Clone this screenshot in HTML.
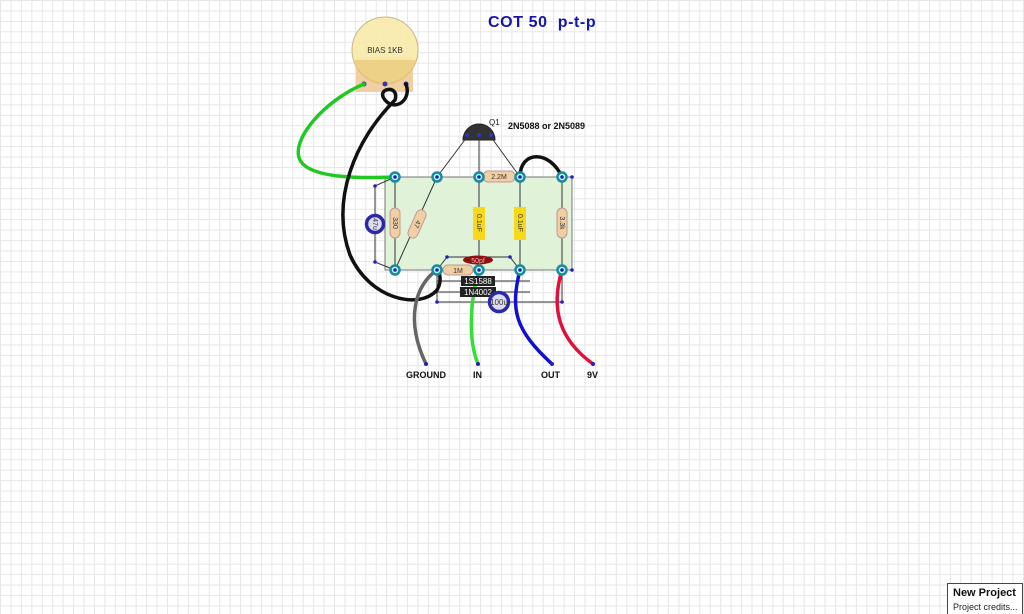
<!DOCTYPE html>
<html><head><style>
html,body{margin:0;padding:0;width:1024px;height:614px;overflow:hidden;background:#fff}
body{background-image:linear-gradient(#e6e6e6 1px,transparent 1px),linear-gradient(90deg,#e6e6e6 1px,transparent 1px);background-size:10.45px 10.45px;background-position:0 0}
svg{position:absolute;left:0;top:0}
text{font-family:"Liberation Sans",sans-serif}
</style></head><body>
<svg width="1024" height="614" viewBox="0 0 1024 614">
<text x="488" y="27" font-size="16" font-weight="bold" fill="#1616a6" letter-spacing="0.6" style="white-space:pre">COT 50  p-t-p</text>
<!-- pot -->
<rect x="356" y="57" width="57" height="35" fill="#f2cfa2"/>
<circle cx="385" cy="50" r="33" fill="#f7eaa8" fill-opacity="0.9" stroke="#c8b68a"/>
<path d="M353,60 L417,60 A33,33 0 0 1 353,60 Z" fill="#e8c878" opacity="0.7"/>
<text x="385" y="53" font-size="8" text-anchor="middle" fill="#333">BIAS 1KB</text>
<circle cx="364" cy="84" r="2.5" fill="#33a"/><circle cx="385" cy="84" r="2.5" fill="#33a"/><circle cx="406" cy="84" r="2.5" fill="#33a"/>
<!-- board -->
<rect x="385" y="177" width="187" height="93" fill="#e0f2d8" stroke="#777" stroke-width="1"/>
<!-- transistor -->
<path d="M463,140 A16,16 0 0 1 495,140 Z" fill="#333" stroke="#222"/>
<circle cx="467" cy="135" r="2" fill="#33c"/><circle cx="479" cy="135" r="2" fill="#33c"/><circle cx="491" cy="135" r="2" fill="#33c"/>
<text x="489" y="125" font-size="8" fill="#222">Q1</text>
<text x="508" y="129" font-size="9" font-weight="bold" fill="#111">2N5088 or 2N5089</text>
<g stroke="#333" stroke-width="1" fill="none">
<line x1="467" y1="137" x2="437" y2="177"/><line x1="479" y1="137" x2="479" y2="270"/><line x1="491" y1="137" x2="520" y2="177"/>
<line x1="395" y1="177" x2="395" y2="270"/><line x1="437" y1="177" x2="395" y2="270"/>
<line x1="520" y1="177" x2="520" y2="270"/><line x1="562" y1="177" x2="562" y2="270"/>
<line x1="375" y1="186" x2="375" y2="262"/><line x1="375" y1="186" x2="395" y2="177"/><line x1="375" y1="262" x2="395" y2="270"/>
<polyline points="447,257 510,257 520,270"/><line x1="447" y1="257" x2="437" y2="270"/>
<line x1="437" y1="281" x2="530" y2="281"/><line x1="437" y1="292" x2="530" y2="292"/><line x1="437" y1="302" x2="562" y2="302"/>
<line x1="437" y1="270" x2="437" y2="302"/><line x1="562" y1="270" x2="562" y2="302"/>
</g>
<!-- components -->
<rect x="390" y="208" width="10" height="30" rx="5" fill="#f2cfa2" stroke="#b99"/>
<text transform="translate(393,223) rotate(90)" font-size="7" text-anchor="middle" fill="#333">330</text>
<g transform="translate(417,224) rotate(24)"><rect x="-5" y="-15" width="10" height="30" rx="5" fill="#f2cfa2" stroke="#b99"/><text transform="rotate(90)" x="0" y="2" font-size="7" text-anchor="middle" fill="#333">47</text></g>
<rect x="473" y="207" width="12" height="33" fill="#f8d81a"/>
<text transform="translate(477,223) rotate(90)" font-size="7" text-anchor="middle" fill="#333">0.1uF</text>
<rect x="514" y="207" width="12" height="33" fill="#f8d81a"/>
<text transform="translate(518,223) rotate(90)" font-size="7" text-anchor="middle" fill="#333">0.1uF</text>
<rect x="557" y="208" width="10" height="30" rx="5" fill="#f2cfa2" stroke="#b99"/>
<text transform="translate(560,223) rotate(90)" font-size="7" text-anchor="middle" fill="#333">3.3k</text>
<circle cx="375" cy="224" r="8.5" fill="#dde" stroke="#2a2aa8" stroke-width="3.5"/>
<text transform="translate(373,224) rotate(90)" font-size="7" text-anchor="middle" fill="#333">47u</text>
<rect x="483" y="171" width="32" height="11" rx="5" fill="#f2cfa2" stroke="#b99"/>
<text x="499" y="179" font-size="7" text-anchor="middle" fill="#333">2.2M</text>
<ellipse cx="478" cy="260" rx="15" ry="4.5" fill="#8e1010"/>
<text x="478" y="263" font-size="7" text-anchor="middle" fill="#eaa">50pf</text>
<rect x="443" y="265" width="30" height="10" rx="5" fill="#f2cfa2" stroke="#b99"/>
<text x="458" y="273" font-size="7" text-anchor="middle" fill="#333">1M</text>
<!-- wires -->
<g fill="none" stroke-linecap="round">
<path d="M364,84 C325,100 290,140 300,160 C310,180 370,178 395,177" stroke="#22c822" stroke-width="3.5"/>
<path d="M406,84 C412,100 395,112 385,100 C375,88 400,84 395,100 C355,140 330,200 350,255 C370,300 420,310 437,290 C442,282 440,272 437,270" stroke="#111" stroke-width="3.5"/>
<path d="M520,177 C520,150 550,150 562,177" stroke="#111" stroke-width="3.5"/>
<path d="M437,270 C415,285 405,320 426,364" stroke="#666" stroke-width="3.5"/>
<path d="M479,270 C470,300 468,340 478,364" stroke="#33e033" stroke-width="3.5"/>
<path d="M520,270 C510,310 515,330 552,364" stroke="#1010d0" stroke-width="3.5"/>
<path d="M562,270 C550,310 560,340 593,364" stroke="#e0103a" stroke-width="3.5"/>
</g>
<rect x="461" y="276" width="34" height="10" fill="#222"/><text x="478" y="284" font-size="8" text-anchor="middle" fill="#fff">1S1588</text>
<rect x="460" y="287" width="36" height="10" fill="#222"/><text x="478" y="295" font-size="8" text-anchor="middle" fill="#fff">1N4002</text>
<circle cx="499" cy="302" r="9.5" fill="#dde" stroke="#2a2aa8" stroke-width="3.5"/>
<text x="499" y="305" font-size="8" text-anchor="middle" fill="#333">100u</text>
<!-- eyelets -->
<g fill="#bfe" stroke="#1a8aa0" stroke-width="2.5">
<circle cx="395" cy="177" r="4.5"/><circle cx="437" cy="177" r="4.5"/><circle cx="479" cy="177" r="4.5"/><circle cx="520" cy="177" r="4.5"/><circle cx="562" cy="177" r="4.5"/>
<circle cx="395" cy="270" r="4.5"/><circle cx="437" cy="270" r="4.5"/><circle cx="479" cy="270" r="4.5"/><circle cx="520" cy="270" r="4.5"/><circle cx="562" cy="270" r="4.5"/>
</g>
<g fill="#22b"><circle cx="395" cy="177" r="1.8"/><circle cx="437" cy="177" r="1.8"/><circle cx="479" cy="177" r="1.8"/><circle cx="520" cy="177" r="1.8"/><circle cx="562" cy="177" r="1.8"/><circle cx="395" cy="270" r="1.8"/><circle cx="437" cy="270" r="1.8"/><circle cx="479" cy="270" r="1.8"/><circle cx="520" cy="270" r="1.8"/><circle cx="562" cy="270" r="1.8"/>
<circle cx="375" cy="186" r="1.8"/><circle cx="375" cy="262" r="1.8"/><circle cx="572" cy="177" r="1.8"/><circle cx="572" cy="270" r="1.8"/><circle cx="447" cy="257" r="1.8"/><circle cx="510" cy="257" r="1.8"/><circle cx="437" cy="302" r="1.8"/><circle cx="562" cy="302" r="1.8"/></g>
<g fill="#22b"><circle cx="426" cy="364" r="2"/><circle cx="478" cy="364" r="2"/><circle cx="552" cy="364" r="2"/><circle cx="593" cy="364" r="2"/></g>
<g font-size="9" font-weight="bold" fill="#111">
<text x="406" y="378">GROUND</text><text x="473" y="378">IN</text><text x="541" y="378">OUT</text><text x="587" y="378">9V</text>
</g>
<rect x="947.5" y="583.5" width="75" height="31" fill="#fff" stroke="#444"/>
<text x="953" y="596" font-size="11" font-weight="bold" fill="#111">New Project</text>
<text x="953" y="610" font-size="9" fill="#222">Project credits...</text>
</svg>
</body></html>
